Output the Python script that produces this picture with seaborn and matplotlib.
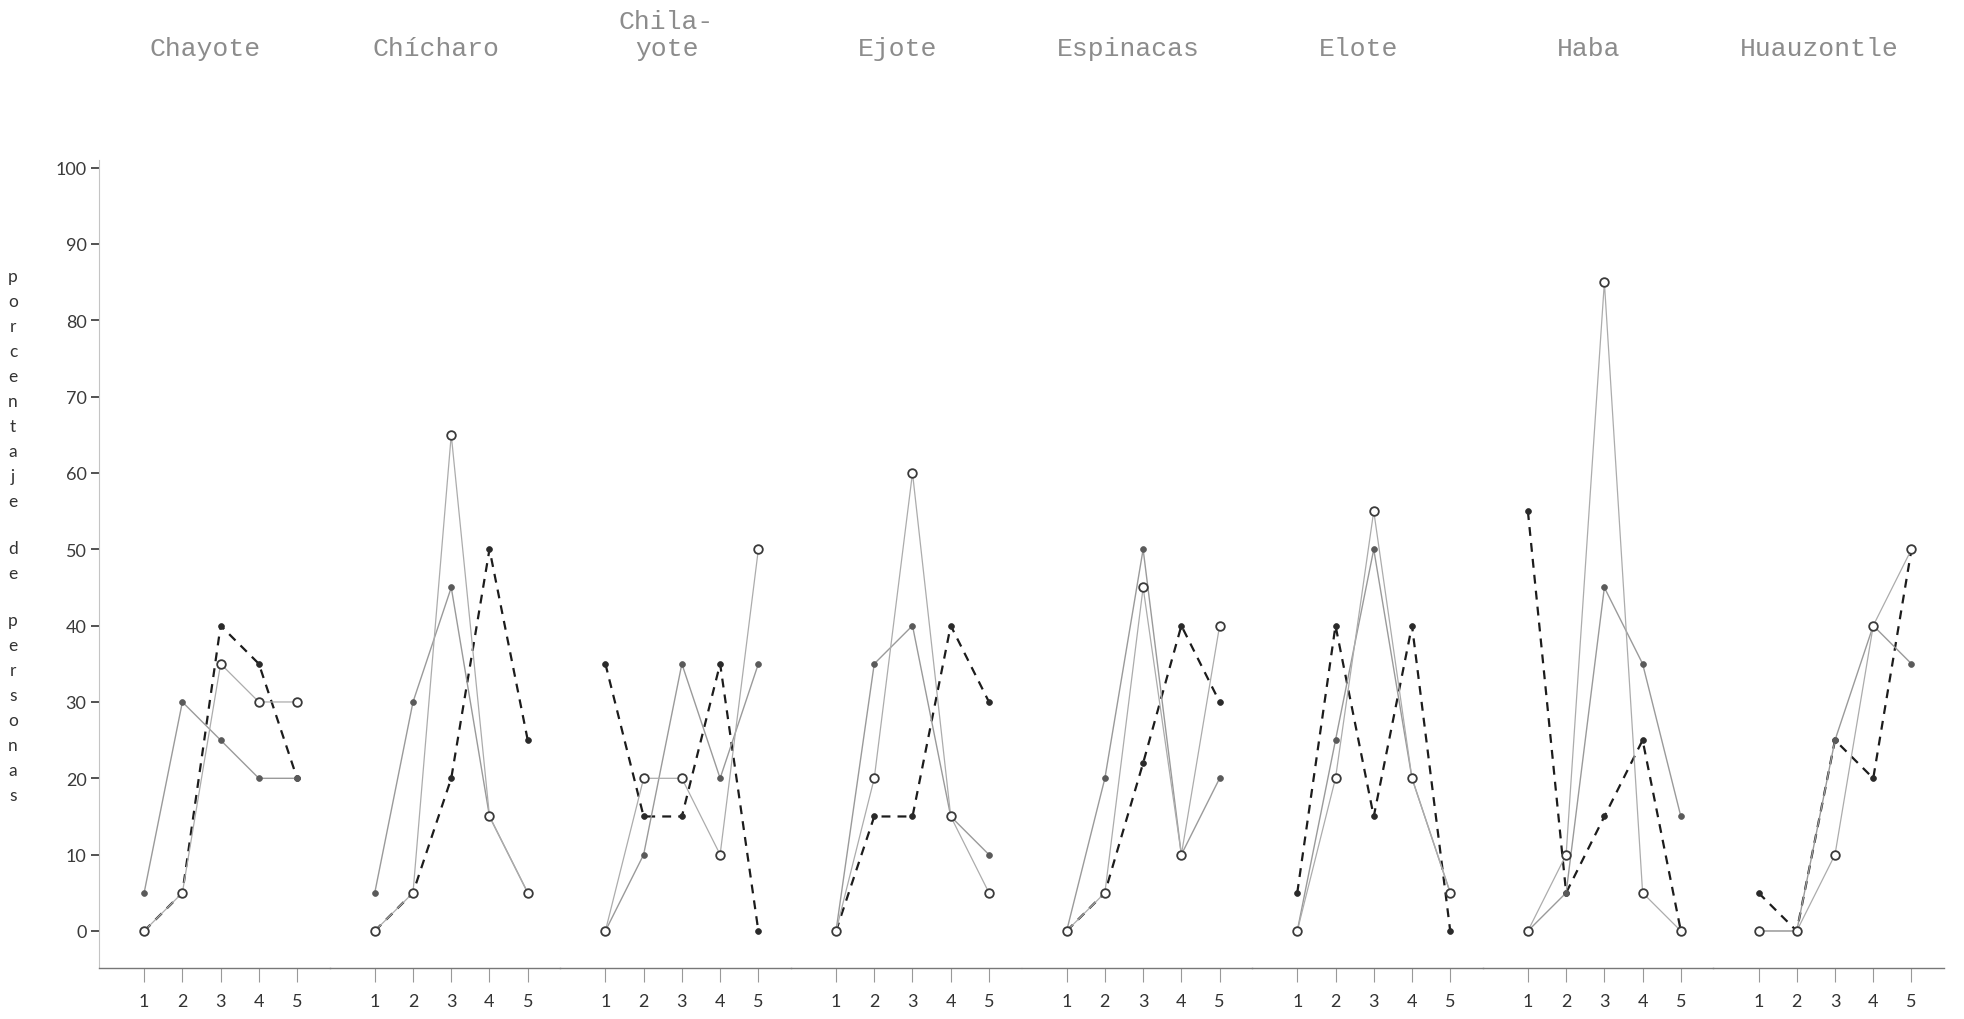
import matplotlib
matplotlib.use("Agg")
import matplotlib.pyplot as plt
import matplotlib.transforms as mtransforms
import seaborn as sns

# ---------------- data ----------------
weeks = [1, 2, 3, 4, 5]
crops = ["Chayote", "Chícharo", "Chila-\nyote", "Ejote", "Espinacas",
         "Elote", "Haba", "Huauzontle"]

# solid line, filled dots
serie_a = [
    [5, 30, 25, 20, 20],
    [5, 30, 45, 15, 5],
    [0, 10, 35, 20, 35],
    [0, 35, 40, 15, 10],
    [0, 20, 50, 10, 20],
    [0, 25, 50, 20, 5],
    [0, 5, 45, 35, 15],
    [0, 0, 25, 40, 35],
]
# solid line, open circles
serie_b = [
    [0, 5, 35, 30, 30],
    [0, 5, 65, 15, 5],
    [0, 20, 20, 10, 50],
    [0, 20, 60, 15, 5],
    [0, 5, 45, 10, 40],
    [0, 20, 55, 20, 5],
    [0, 10, 85, 5, 0],
    [0, 0, 10, 40, 50],
]
# dashed line, filled dots
serie_c = [
    [0, 5, 40, 35, 20],
    [0, 5, 20, 50, 25],
    [35, 15, 15, 35, 0],
    [0, 15, 15, 40, 30],
    [0, 5, 22, 40, 30],
    [5, 40, 15, 40, 0],
    [55, 5, 15, 25, 0],
    [5, 0, 25, 20, 50],
]
y_ticks = [0, 10, 20, 30, 40, 50, 60, 70, 80, 90, 100]
ylabel_words = ["porcentaje", "de", "personas"]

# ---------------- style ----------------
sns.set_theme(style="white")
plt.rcParams['font.family'] = ['Lato', 'DejaVu Sans']

W, H = 1965, 1020
fig = plt.figure(figsize=(W / 100, H / 100), dpi=100)
fig.patch.set_facecolor("white")

left, right = 99 / W, 1944 / W
bottom, top = 1 - 969 / H, 1 - 161 / H
gs = fig.add_gridspec(1, len(crops), left=left, right=right,
                      bottom=bottom, top=top, wspace=0)
axes = [fig.add_subplot(gs[0, i]) for i in range(len(crops))]

for i, ax in enumerate(axes):
    # dashed series
    sns.lineplot(x=weeks, y=serie_c[i], ax=ax, errorbar=None, sort=False,
                 color="#1c1c1c", linewidth=1.6, linestyle=(0, (4, 3.2)),
                 marker="o", markersize=4.2, markerfacecolor="#2a2a2a",
                 markeredgecolor="#2a2a2a", markeredgewidth=0.5, zorder=2)
    # solid series with filled dots
    sns.lineplot(x=weeks, y=serie_a[i], ax=ax, errorbar=None, sort=False,
                 color="#9a9a9a", linewidth=1.0,
                 marker="o", markersize=4.2, markerfacecolor="#5a5a5a",
                 markeredgecolor="#5a5a5a", markeredgewidth=0.5, zorder=3)
    # solid series with open circles
    sns.lineplot(x=weeks, y=serie_b[i], ax=ax, errorbar=None, sort=False,
                 color="#acacac", linewidth=0.9,
                 marker="o", markersize=6.2, markerfacecolor="white",
                 markeredgecolor="#3a3a3a", markeredgewidth=1.3, zorder=4)

    ax.set_xlim(-0.18, 5.85)
    ax.set_ylim(-4.85, 101)
    ax.set_xlabel("")
    ax.set_ylabel("")
    ax.set_facecolor("none")
    ax.set_xticks(weeks)
    ax.set_xticklabels([str(w) for w in weeks])
    ax.tick_params(axis="x", bottom=True, direction="out", length=10,
                   width=0.8, color="#999999", pad=8, labelsize=13,
                   labelcolor="#333333")
    for s in ["top", "right"]:
        ax.spines[s].set_visible(False)
    ax.spines["bottom"].set_color("#777777")
    ax.spines["bottom"].set_linewidth(1.0)
    if i == 0:
        ax.spines["left"].set_color("#c4c4c4")
        ax.spines["left"].set_linewidth(0.8)
        ax.set_yticks(y_ticks)
        ax.set_yticklabels([str(v) for v in y_ticks])
        ax.tick_params(axis="y", left=True, direction="out", length=6,
                       width=1.3, color="#444444", pad=3, labelsize=13,
                       labelcolor="#3a3a3a")
    else:
        ax.spines["left"].set_visible(False)
        ax.set_yticks([])

    # column titles (typewriter style)
    trans = mtransforms.blended_transform_factory(ax.transData, fig.transFigure)
    lines = crops[i].split("\n")
    base_y = 1 - 56 / H
    for k, line in enumerate(reversed(lines)):
        ax.text(2.6, base_y + k * 27 / H, line, transform=trans,
                ha="center", va="baseline", fontsize=19,
                family=["Liberation Mono", "DejaVu Sans Mono"],
                color="#8c8c8c", clip_on=False)

# stacked vertical y-axis label
y = 277
for w, word in enumerate(ylabel_words):
    if w > 0:
        y += 22
    for ch in word:
        fig.text(13 / W, 1 - y / H, ch, ha="center", va="center",
                 fontsize=12.5, color="#333333")
        y += 25

fig.savefig("out.png", dpi=100, facecolor="white")
